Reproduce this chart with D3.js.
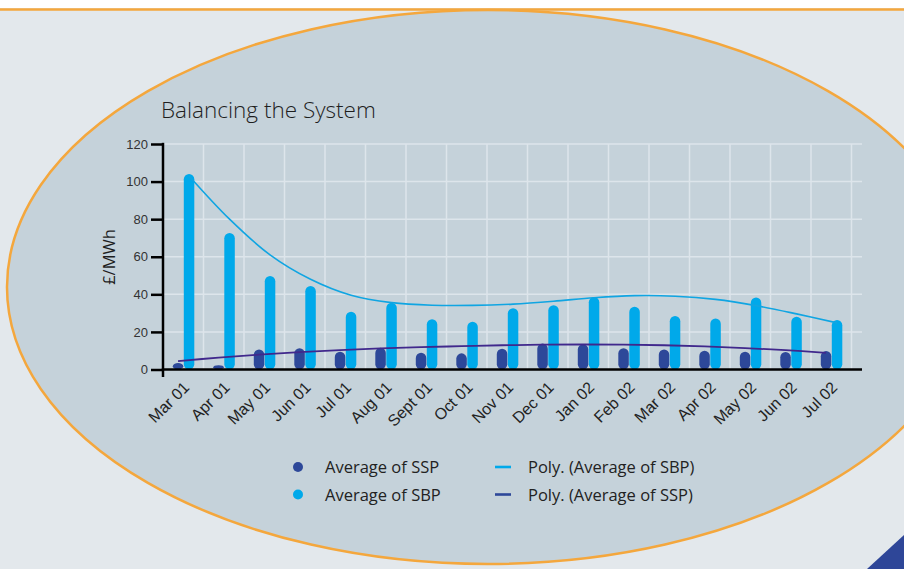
<!DOCTYPE html>
<html>
<head>
<meta charset="utf-8">
<script src="https://cdn.jsdelivr.net/npm/d3@7"></script>
<style>
  html, body { margin: 0; padding: 0; background: #e3e8ec; }
  svg { display: block; font-family: "Open Sans", "Noto Sans", sans-serif; }
</style>
</head>
<body>
<svg id="chart" width="904" height="569"></svg>
<script>
// Chart data
const months = ['Mar 01', 'Apr 01', 'May 01', 'Jun 01', 'Jul 01', 'Aug 01', 'Sept 01', 'Oct 01',
    'Nov 01', 'Dec 01', 'Jan 02', 'Feb 02', 'Mar 02', 'Apr 02', 'May 02', 'Jun 02', 'Jul 02'];
const ssp = [3.5, 2.3, 10.7, 11.3, 9.5, 11.6, 8.9, 8.6, 11.1, 13.9, 13.4, 11.3, 10.7, 10.0, 9.5, 9.3, 9.8];
const sbp = [104, 72.7, 49.8, 44.4, 30.7, 35.5, 26.8, 25.4, 32.6, 34.2, 38.6, 33.4, 28.5, 27.2, 38.3, 28.1, 26.3];
// polynomial trend lines as drawn in the picture
const sbpTrend = [103, 80, 61, 48, 39.5, 35.6, 34.2, 34.1, 34.8, 36.3, 38.2, 39.3, 39.0, 37.3, 34.0, 29.6, 24.8];
const sspTrend = [4.5, 6.3, 7.9, 9.2, 10.3, 11.2, 11.9, 12.4, 12.9, 13.2, 13.3, 13.2, 12.9, 12.3, 11.4, 10.3, 8.9];
const yTicks = [0, 20, 40, 60, 80, 100, 120];
const legendItems = [
    {label: 'Average of SSP', type: 'dot', color: '#2d4899'},
    {label: 'Average of SBP', type: 'dot', color: '#00a9ea'},
    {label: 'Poly. (Average of SBP)', type: 'line', color: '#00a9ea'},
    {label: 'Poly. (Average of SSP)', type: 'line', color: '#2d4899'}
];

const svg = d3.select('#chart');
const W = 904, H = 569;

// Background decoration
svg.append('rect').attr('width', W).attr('height', H).attr('fill', '#e3e8ec');
svg.append('rect').attr('width', W).attr('height', 8).attr('fill', '#ffffff');
svg.append('ellipse')
    .attr('cx', 488).attr('cy', 287)
    .attr('rx', 481).attr('ry', 277)
    .attr('fill', '#c5d2da')
    .attr('stroke', '#f4a73d')
    .attr('stroke-width', 2.5);
svg.append('line')
    .attr('x1', 0).attr('x2', W).attr('y1', 9.5).attr('y2', 9.5)
    .attr('stroke', '#f4a73d').attr('stroke-width', 2.6);
svg.append('path')
    .attr('d', `M${W},535 L${W},${H} L867,${H} Z`)
    .attr('fill', '#2e4698');

// Scales
const x = d3.scaleBand().domain(months).range([163, 851.5]).padding(0);
const y = d3.scaleLinear().domain([0, 120]).range([369.5, 144]);
const xEnd = 862;

// Gridlines
const grid = svg.append('g').attr('class', 'grid')
    .attr('stroke', '#dde5eb').attr('stroke-width', 1.5);
grid.selectAll('line.h')
    .data(yTicks.filter(d => d > 0))
    .join('line')
    .attr('class', 'h')
    .attr('x1', x.range()[0]).attr('x2', xEnd)
    .attr('y1', d => y(d)).attr('y2', d => y(d));
grid.selectAll('line.v')
    .data(months)
    .join('line')
    .attr('class', 'v')
    .attr('x1', d => x(d) + x.bandwidth()).attr('x2', d => x(d) + x.bandwidth())
    .attr('y1', y(120)).attr('y2', y(0));

// Bars (rounded pills)
const barW = 10.5;
function pill(sel, values, offset, color) {
    sel.selectAll(null)
        .data(months)
        .join('rect')
        .attr('x', (d, i) => x(d) + x.bandwidth() / 2 + offset - barW / 2)
        .attr('y', (d, i) => y(values[i]))
        .attr('width', barW)
        .attr('height', (d, i) => y(0) - y(values[i]))
        .attr('rx', barW / 2)
        .attr('ry', (d, i) => Math.min(barW / 2, (y(0) - y(values[i])) / 2))
        .attr('fill', color);
}
const bars = svg.append('g').attr('class', 'bars');
pill(bars, ssp, -5.2, '#2d4899');
pill(bars, sbp, 5.8, '#00a9ea');

// Axes
const yAxis = svg.append('g')
    .attr('transform', `translate(${x.range()[0]},0)`)
    .call(d3.axisLeft(y).tickValues(yTicks).tickSize(12).tickPadding(3));
yAxis.select('.domain').remove();
yAxis.selectAll('.tick line').attr('stroke', '#000').attr('stroke-width', 2.5);
yAxis.selectAll('.tick text')
    .attr('fill', '#333').style('font-size', '13px');
svg.append('line')
    .attr('x1', x.range()[0]).attr('x2', x.range()[0])
    .attr('y1', y(120) - 1.2).attr('y2', 377)
    .attr('stroke', '#000').attr('stroke-width', 2.5);

const xAxis = svg.append('g')
    .attr('transform', `translate(0,${y(0)})`)
    .call(d3.axisBottom(x).tickSize(0).tickPadding(0));
xAxis.select('.domain').remove();
xAxis.selectAll('.tick text')
    .attr('fill', '#222')
    .style('font-size', '16px')
    .attr('text-anchor', 'end')
    .attr('dy', null)
    .attr('transform', 'translate(7,19) rotate(-45)');
svg.append('line')
    .attr('x1', x.range()[0] - 1.2).attr('x2', xEnd)
    .attr('y1', y(0)).attr('y2', y(0))
    .attr('stroke', '#000').attr('stroke-width', 2.6);

// Trend lines
const trendLine = (values, offset) => d3.line()
    .x((d, i) => x(months[i]) + x.bandwidth() / 2 + offset)
    .y(d => y(d))
    .curve(d3.curveCatmullRom)(values);
svg.append('path')
    .attr('d', trendLine(sbpTrend, 5.8))
    .attr('fill', 'none').attr('stroke', '#10a5e2').attr('stroke-width', 1.6);
svg.append('path')
    .attr('d', trendLine(sspTrend, -5.2))
    .attr('fill', 'none').attr('stroke', '#40288c').attr('stroke-width', 1.8);

// Title and axis label
svg.append('text')
    .attr('x', 161).attr('y', 118)
    .attr('fill', '#1e1e1e')
    .style('font-size', '22.5px').style('font-weight', 300)
    .text('Balancing the System');
svg.append('text')
    .attr('transform', 'translate(115,257) rotate(-90)')
    .attr('text-anchor', 'middle')
    .attr('fill', '#1e1e1e')
    .style('font-size', '16.5px')
    .text('£/MWh');

// Legend
const legend = svg.append('g').attr('class', 'legend');
const lg = legend.selectAll('g')
    .data(legendItems)
    .join('g')
    .attr('transform', (d, i) => `translate(${i < 2 ? 298 : 503},${467 + (i % 2) * 27.5})`);
lg.filter(d => d.type === 'dot').append('circle')
    .attr('r', 5).attr('fill', d => d.color);
lg.filter(d => d.type === 'line').append('line')
    .attr('x1', -8).attr('x2', 8)
    .attr('stroke', d => d.color).attr('stroke-width', 2.6);
lg.append('text')
    .attr('x', d => d.type === 'dot' ? 27 : 25)
    .attr('y', 6)
    .attr('fill', '#222')
    .style('font-size', '16.5px')
    .text(d => d.label);
</script>
</body>
</html>
